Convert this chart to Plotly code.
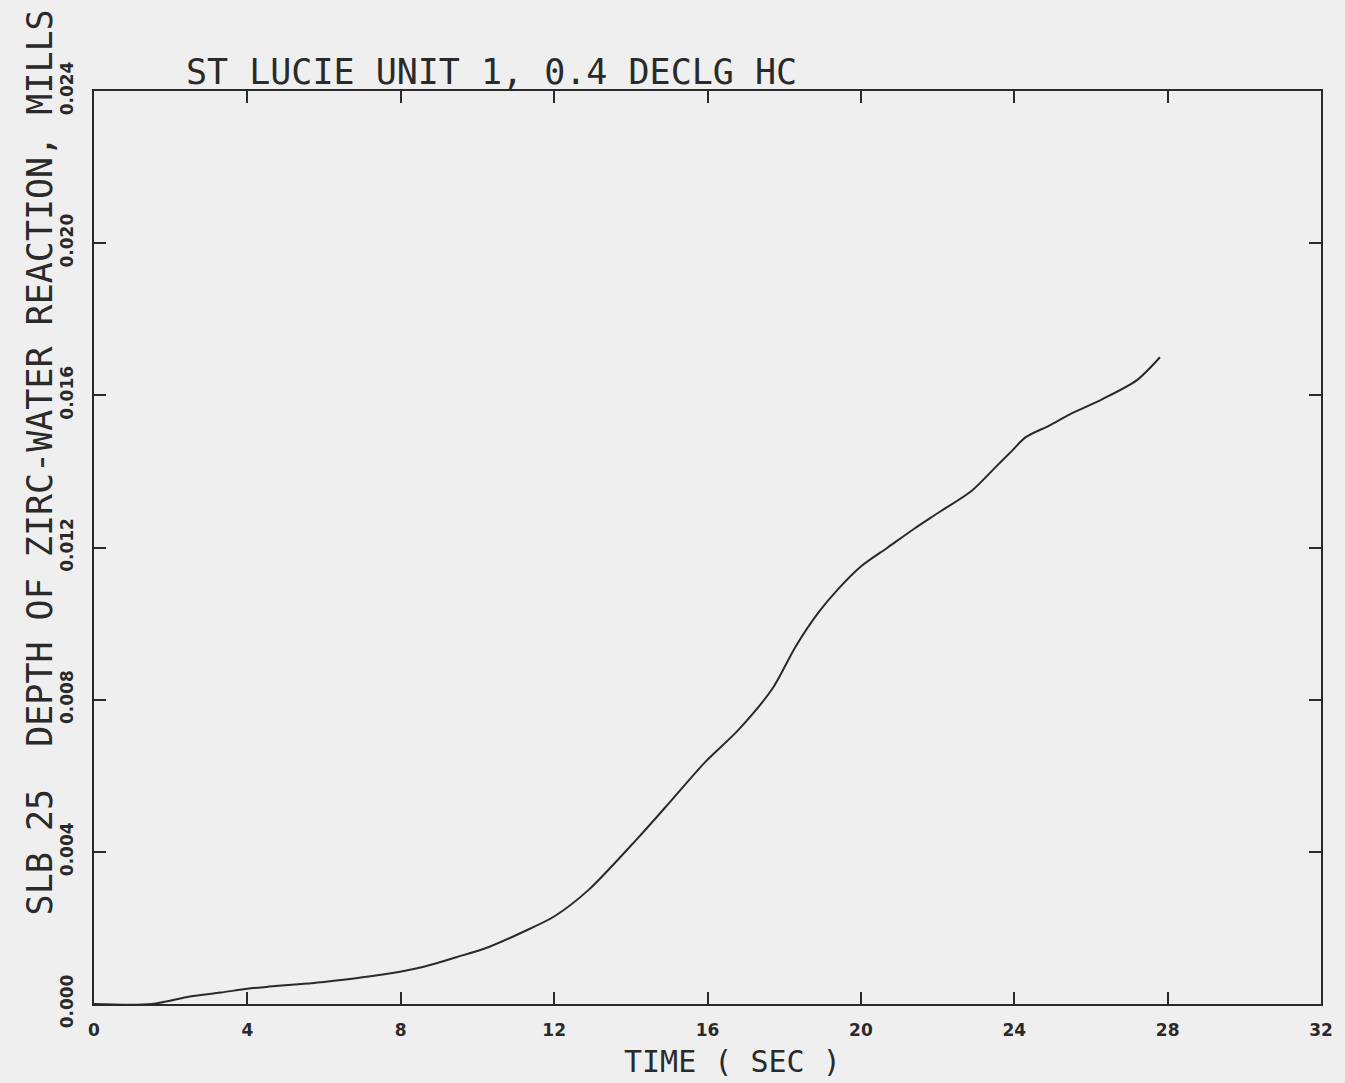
import plotly.graph_objects as go

# Data
time_s = [0, 1.5, 2.5, 3.3, 4.0, 4.5, 6.0, 7.7, 8.6, 9.45, 10.3, 11.2, 12.0, 12.9,
          14.2, 15.1, 15.95, 16.8, 17.7, 18.3, 18.9, 19.4, 20.0, 20.7, 21.4, 22.0,
          22.9, 23.5, 23.9, 24.3, 24.9, 25.45, 26.3, 27.2, 27.8]
depth_mils = [0, 0, 0.0002, 0.0003, 0.0004, 0.00045, 0.00058, 0.0008, 0.00098, 0.00123,
              0.0015, 0.0019, 0.0023, 0.003, 0.00438, 0.0054, 0.00637, 0.0072, 0.0083,
              0.0094, 0.0103, 0.0109, 0.0115, 0.0120, 0.0125, 0.0129, 0.0135, 0.0141,
              0.0145, 0.0149, 0.0152, 0.0155, 0.0159, 0.0164, 0.0170]

x_ticks = [0, 4, 8, 12, 16, 20, 24, 28, 32]
x_tick_labels = ["0", "4", "8", "12", "16", "20", "24", "28", "32"]
y_ticks = [0.0, 0.004, 0.008, 0.012, 0.016, 0.020, 0.024]
y_tick_labels = ["0.000", "0.004", "0.008", "0.012", "0.016", "0.020", "0.024"]

title_text = "ST LUCIE UNIT 1, 0.4 DECLG HC"
y_title = "SLB 25\u00a0\u00a0DEPTH OF ZIRC-WATER REACTION, MILLS"
x_title = "TIME ( SEC )"

ink = "#2a2a2a"
bg = "#efefef"
mono = "DejaVu Sans Mono"

fig = go.Figure()
fig.add_trace(go.Scatter(x=time_s, y=depth_mils, mode="lines",
                         line=dict(color=ink, width=2, shape="spline", smoothing=0.8),
                         showlegend=False, hoverinfo="skip"))

W, H = 1345, 1083
L, R, T, B = 94, 1330, 91, 1004

axis_common = dict(showgrid=False, zeroline=False, showline=True, linecolor=ink,
                   linewidth=2, mirror="ticks", ticks="inside", ticklen=12,
                   tickwidth=2, tickcolor=ink,
                   tickfont=dict(family="DejaVu Sans", size=17, color=ink))

fig.update_layout(
    width=W, height=H,
    margin=dict(l=L, r=W - R, t=T, b=H - B, pad=0),
    paper_bgcolor=bg, plot_bgcolor=bg,
    xaxis=dict(range=[0, 32], tickvals=x_ticks,
               ticktext=["<b>%s</b>" % t for t in x_tick_labels],
               ticklabelstandoff=10, **axis_common),
    yaxis=dict(range=[0, 0.024], tickvals=y_ticks,
               ticktext=["<b>%s</b>" % t for t in y_tick_labels],
               tickangle=-90, ticklabelstandoff=12, **axis_common),
)

pw, ph = R - L, B - T
fig.add_annotation(text=title_text, xref="paper", yref="paper",
                   x=(185 - L) / pw, y=1 + (T - 72) / ph, xanchor="left", yanchor="middle",
                   showarrow=False, font=dict(family=mono, size=35, color=ink))
fig.add_annotation(text=y_title, xref="paper", yref="paper",
                   x=(40 - L) / pw, y=(B - 462) / ph, xanchor="center", yanchor="middle",
                   textangle=-90, showarrow=False, font=dict(family=mono, size=35, color=ink))
fig.add_annotation(text=x_title, xref="paper", yref="paper",
                   x=(737 - L) / pw, y=(B - 1061) / ph, xanchor="center", yanchor="middle",
                   showarrow=False, font=dict(family=mono, size=30, color=ink))

fig.write_html("out.html", config={"displayModeBar": False},
               post_script="document.body.style.margin='0';document.body.style.overflow='hidden';")
